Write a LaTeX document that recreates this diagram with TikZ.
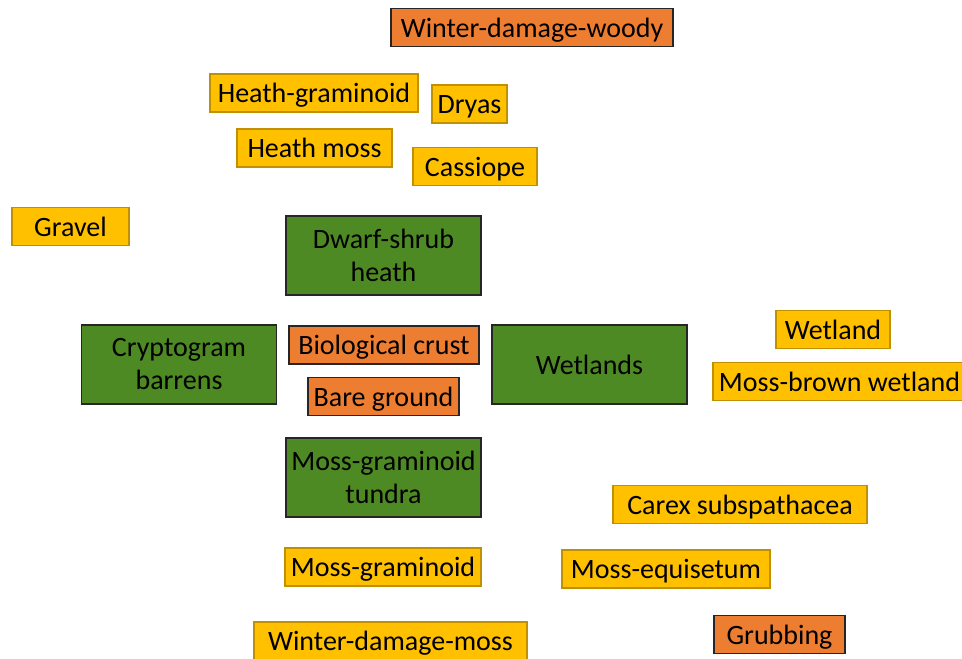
\documentclass[tikz,border=0pt]{standalone}
\usepackage{fontspec}
\setmainfont{Carlito}
\definecolor{vegyellow}{RGB}{255,192,0}
\definecolor{vegyellowline}{RGB}{191,144,0}
\definecolor{vegorange}{RGB}{237,125,49}
\definecolor{veggreen}{RGB}{78,138,36}
\begin{document}
\begin{tikzpicture}[x=1pt, y=-1pt,
        yellowbox/.style={draw=vegyellowline, line width=1.4pt, fill=vegyellow, minimum height=38pt, inner sep=0pt, text height=21pt, text depth=2pt},
        orangebox/.style={draw=black!85, line width=1.6pt, fill=vegorange, minimum height=38pt, inner sep=0pt, text height=21pt, text depth=2pt},
        greenbox/.style={draw=black!85, line width=1.6pt, fill=veggreen, minimum width=195pt, minimum height=79pt, inner sep=0pt, align=center},
        every node/.append style={font=\fontsize{28}{33}\selectfont}]
        \useasboundingbox (0,0) rectangle (962,659);
        % categories
        \node[greenbox] (DSH) at (383.5,255.5) {Dwarf-shrub\\heath};
        \node[greenbox] (CB) at (179,364.5) {Cryptogram\\barrens};
        \node[greenbox] (WL) at (589.5,364.5) {Wetlands};
        \node[greenbox] (MGT) at (383.5,477.5) {Moss-graminoid\\tundra};
        
        \node[orangebox, minimum width=282pt] (WDW) at (532,27.5) {Winter-damage-woody};
        \node[orangebox, minimum width=190pt] (BC) at (384,345) {Biological crust};
        \node[orangebox, minimum width=151pt] (BG) at (383.5,396.5) {Bare ground};
        \node[orangebox, minimum width=131pt] (GR) at (779.5,634.5) {Grubbing};
        
        \node[yellowbox, minimum width=208pt] (HG) at (314,93) {Heath-graminoid};
        \node[yellowbox, minimum width=75pt] (DR) at (469.5,104) {Dryas};
        \node[yellowbox, minimum width=155pt] (HM) at (314.5,148) {Heath moss};
        \node[yellowbox, minimum width=124pt] (CA) at (475,166.5) {Cassiope};
        \node[yellowbox, minimum width=117pt] (GV) at (70.5,226.5) {Gravel};
        \node[yellowbox, minimum width=114pt] (WT) at (833,329.5) {Wetland};
        \node[yellowbox, minimum width=253pt] (MBW) at (839.5,381.5) {Moss-brown wetland};
        \node[yellowbox, minimum width=254pt] (CS) at (740,504.5) {Carex subspathacea};
        \node[yellowbox, minimum width=196pt] (MG) at (383,567) {Moss-graminoid};
        \node[yellowbox, minimum width=208pt] (ME) at (666,569) {Moss-equisetum};
        \node[yellowbox, minimum width=273pt] (WDM) at (390.5,641) {Winter-damage-moss};
    \end{tikzpicture}
\end{document}
